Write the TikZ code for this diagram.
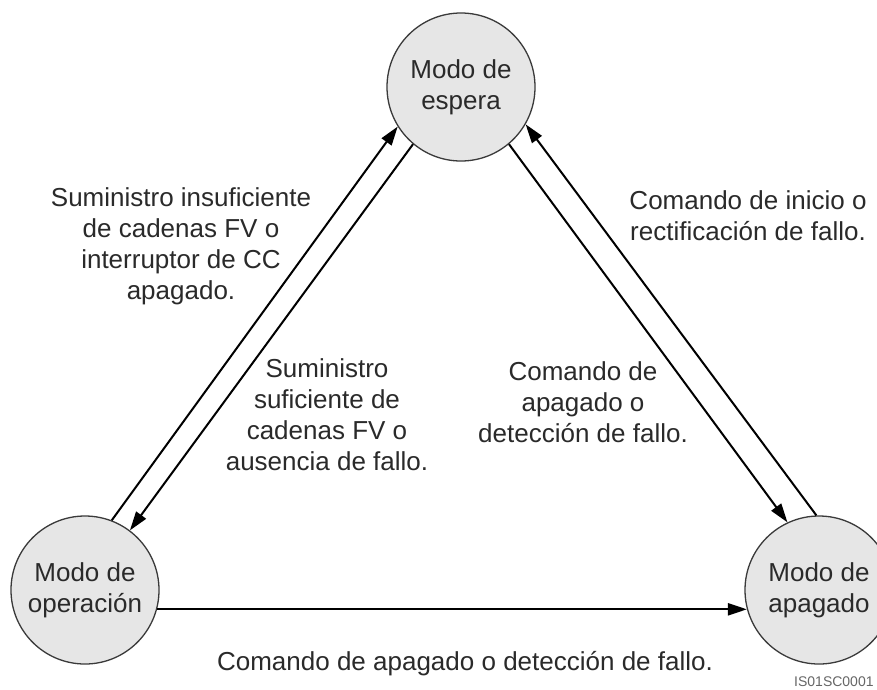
\documentclass[tikz,border=0pt]{standalone}
\usepackage{fontspec}
\setmainfont{Liberation Sans}
\usetikzlibrary{arrows.meta}
\definecolor{circfill}{HTML}{E6E6E6}
\definecolor{circdraw}{HTML}{3A3A3A}
\definecolor{txt}{HTML}{2A2A2A}
\definecolor{codegray}{HTML}{666666}
\tikzset{
  state/.style={circle, draw=circdraw, line width=1.3pt, fill=circfill,
    minimum size=148pt, inner sep=0pt, align=center, text=txt,
    font=\fontsize{26}{31}\selectfont},
  lbl/.style={align=center, text=txt, inner sep=0pt,
    font=\fontsize{26}{31}\selectfont},
  arr/.style={line width=2pt, -{Triangle[length=19pt,width=12pt]}}
}
\begin{document}
\begin{tikzpicture}[x=1pt,y=-1pt]
\useasboundingbox (0,0) rectangle (877,689);
\clip (0,0) rectangle (877,689);
\fill[white] (0,0) rectangle (877,689);
\node[state] (sb) at (461,87) {Modo de\\espera};
\node[state] (op) at (85,590) {Modo de\\operación};
\node[state] (off) at (819,590) {Modo de\\apagado};

\draw[arr] (op.69.6) -- (sb.212.4);
\draw[arr] (sb.230.4) -- (op.53.4);
\draw[arr] (sb.-50.8) -- (off.115);
\draw[arr] (off.92.5) -- (sb.-30);
\draw[arr] (op.-15.5) -- (off.195.5);

\node[lbl] (l1) at (181,246) {Suministro insuficiente\\de cadenas FV o\\interruptor de CC\\apagado.};
\node[lbl] (l2) at (327,415) {Suministro\\suficiente de\\cadenas FV o\\ausencia de fallo.};
\node[lbl] (l3) at (583,402) {Comando de\\apagado o\\detección de fallo.};
\node[lbl] (l4) at (748,216) {Comando de inicio o\\rectificación de fallo.};
\node[lbl] (l5) at (465,664) {Comando de apagado o detección de fallo.};
\node[anchor=west, inner sep=0pt, text=codegray, font=\fontsize{14}{16}\selectfont] (code) at (794,682) {IS01SC0001};
\end{tikzpicture}
\end{document}
